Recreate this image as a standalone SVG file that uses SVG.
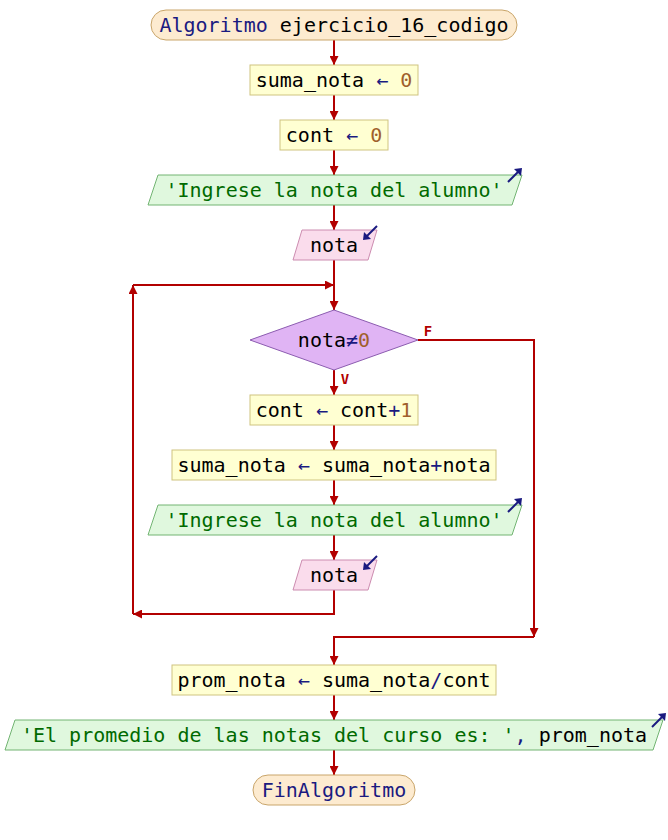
<svg xmlns="http://www.w3.org/2000/svg" width="668" height="840" viewBox="0 0 668 840">
<style>
text{font-family:"DejaVu Sans Mono","Liberation Mono",monospace;font-size:20px;text-anchor:middle;fill:#000}
.kw{fill:#1a1a80}
.op{fill:#1a1a80}
.num{fill:#a0602c}
.str{fill:#006a00}
.term{fill:#fdebd0;stroke:#c9a56a;stroke-width:1}
.proc{fill:#ffffd2;stroke:#cfc480;stroke-width:1}
.out{fill:#e0f8de;stroke:#72b472;stroke-width:1}
.in{fill:#fadcec;stroke:#cc8cb0;stroke-width:1}
.dec{fill:#e0b4f4;stroke:#8c5cb0;stroke-width:1}
.ic{stroke:#1a1a80;stroke-width:2;fill:none}
.icf{fill:#1a1a80}
.c{stroke:#b20000;stroke-width:2;fill:none}
.lbl{font-size:14px;font-weight:bold;fill:#b20000}
</style>
<defs>
<marker id="ah" viewBox="0 0 10 10" refX="10" refY="5" markerWidth="9" markerHeight="9" markerUnits="userSpaceOnUse" orient="auto">
<path d="M0,0 L10,5 L0,10 z" fill="#b20000"/>
</marker>
</defs>
<rect width="668" height="840" fill="#fff"/>
<g id="connectors">
<path class="c" d="M334,40 V65" marker-end="url(#ah)"/>
<path class="c" d="M334,95 V120" marker-end="url(#ah)"/>
<path class="c" d="M334,150 V175" marker-end="url(#ah)"/>
<path class="c" d="M334,205 V230" marker-end="url(#ah)"/>
<path class="c" d="M334,260 V310" marker-end="url(#ah)"/>
<path class="c" d="M334,370 V395" marker-end="url(#ah)"/>
<path class="c" d="M334,425 V450" marker-end="url(#ah)"/>
<path class="c" d="M334,480 V505" marker-end="url(#ah)"/>
<path class="c" d="M334,535 V560" marker-end="url(#ah)"/>
<path class="c" d="M334,590 V614 H133" marker-end="url(#ah)"/>
<path class="c" d="M133,614 V285" marker-end="url(#ah)"/>
<path class="c" d="M133,285 H334" marker-end="url(#ah)"/>
<path class="c" d="M418,340 H534 V637" marker-end="url(#ah)"/>
<path class="c" d="M534,637 H334 V665" marker-end="url(#ah)"/>
<path class="c" d="M334,695 V720" marker-end="url(#ah)"/>
<path class="c" d="M334,750 V775" marker-end="url(#ah)"/>
<text class="lbl" x="428" y="336">F</text>
<text class="lbl" x="345" y="384">V</text>
</g>
<g id="start">
<rect class="term" x="151" y="10" width="366" height="30" rx="15"/>
<text x="334" y="32"><tspan class="kw">Algoritmo</tspan> ejercicio_16_codigo</text>
</g>
<g id="assign1">
<rect class="proc" x="250" y="65" width="168" height="30"/>
<text x="334" y="87">suma_nota <tspan class="op">←</tspan> <tspan class="num">0</tspan></text>
</g>
<g id="assign2">
<rect class="proc" x="280" y="120" width="108" height="30"/>
<text x="334" y="142">cont <tspan class="op">←</tspan> <tspan class="num">0</tspan></text>
</g>
<g id="out1">
<polygon class="out" points="158,175 522,175 512,205 148,205"/>
<text x="334" y="197" class="str">'Ingrese la nota del alumno'</text>
<path class="ic" d="M508,182 L520,170"/>
<path class="icf" d="M522,168 L521,176 L514,169 z"/>
</g>
<g id="in1">
<polygon class="in" points="302,230 377,230 368,260 293,260"/>
<text x="334" y="252">nota</text>
<path class="ic" d="M377,226 L365,238"/>
<path class="icf" d="M363,240 L364,232 L371,239 z"/>
</g>
<g id="cond">
<polygon class="dec" points="334,310 418,340 334,370 250,340"/>
<text x="334" y="347">nota<tspan class="op">≠</tspan><tspan class="num">0</tspan></text>
</g>
<g id="assign3">
<rect class="proc" x="250" y="395" width="168" height="30"/>
<text x="334" y="417">cont <tspan class="op">←</tspan> cont<tspan class="op">+</tspan><tspan class="num">1</tspan></text>
</g>
<g id="assign4">
<rect class="proc" x="172" y="450" width="324" height="30"/>
<text x="334" y="472">suma_nota <tspan class="op">←</tspan> suma_nota<tspan class="op">+</tspan>nota</text>
</g>
<g id="out2">
<polygon class="out" points="158,505 522,505 512,535 148,535"/>
<text x="334" y="527" class="str">'Ingrese la nota del alumno'</text>
<path class="ic" d="M508,512 L520,500"/>
<path class="icf" d="M522,498 L521,506 L514,499 z"/>
</g>
<g id="in2">
<polygon class="in" points="302,560 377,560 368,590 293,590"/>
<text x="334" y="582">nota</text>
<path class="ic" d="M377,556 L365,568"/>
<path class="icf" d="M363,570 L364,562 L371,569 z"/>
</g>
<g id="assign5">
<rect class="proc" x="172" y="665" width="324" height="30"/>
<text x="334" y="687">prom_nota <tspan class="op">←</tspan> suma_nota<tspan class="op">/</tspan>cont</text>
</g>
<g id="out3">
<polygon class="out" points="15,720 663,720 653,750 5,750"/>
<text x="334" y="742"><tspan class="str">'El promedio de las notas del curso es: '</tspan><tspan class="op">,</tspan> prom_nota</text>
<path class="ic" d="M652,727 L664,715"/>
<path class="icf" d="M666,713 L665,721 L658,714 z"/>
</g>
<g id="end">
<rect class="term" x="253" y="775" width="162" height="30" rx="15"/>
<text x="334" y="797" class="kw">FinAlgoritmo</text>
</g>
</svg>
